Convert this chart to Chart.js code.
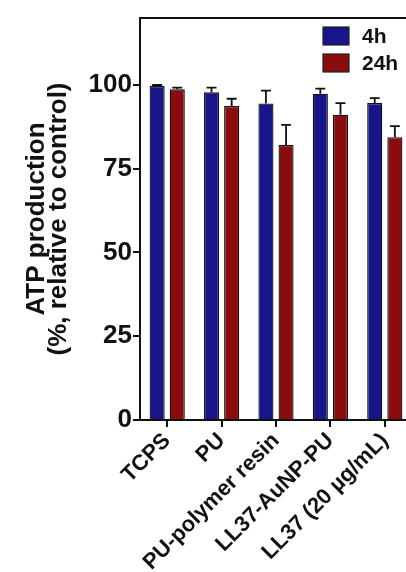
<!DOCTYPE html>
<html>
<head>
<meta charset="utf-8">
<script src="https://cdn.jsdelivr.net/npm/chart.js@4.4.0/dist/chart.umd.min.js"></script>
<style>
html,body{margin:0;padding:0;background:#fff;overflow:hidden;width:406px;height:572px;}
#wrap{width:412px;height:572px;position:relative;}
</style>
</head>
<body>
<div id="wrap"><canvas id="c"></canvas></div>
<script>
const categories = ["TCPS", "PU", "PU-polymer resin", "LL37-AuNP-PU", "LL37 (20 µg/mL)"];
const seriesNames = ["4h", "24h"];
const values4h = [99.7, 97.8, 94.5, 97.4, 94.6];
const errors4h = [0.3, 1.4, 3.8, 1.5, 1.5];
const values24h = [98.7, 93.7, 82.1, 91.1, 84.4];
const errors24h = [0.5, 2.2, 6.0, 3.5, 3.3];
const yTicks = [0, 25, 50, 75, 100];
const yTitle = ["ATP production", "(%, relative to control)"];

const FONT = "'Liberation Sans', Arial, sans-serif";
const colors = ["#16168a", "#8a0c0c"];

const errorBars = {
  id: "errorBars",
  afterDatasetsDraw(chart) {
    const ctx = chart.ctx;
    const yScale = chart.scales.y;
    chart.data.datasets.forEach((ds, di) => {
      const meta = chart.getDatasetMeta(di);
      meta.data.forEach((bar, i) => {
        const v = ds.data[i], e = ds.errors[i];
        const yTop = yScale.getPixelForValue(v + e);
        const yV = bar.y;
        const half = bar.width * 0.33;
        ctx.save();
        ctx.strokeStyle = "#111";
        ctx.lineWidth = 1.8;
        ctx.beginPath();
        ctx.moveTo(bar.x, yV);
        ctx.lineTo(bar.x, yTop);
        ctx.moveTo(bar.x - half, yTop);
        ctx.lineTo(bar.x + half, yTop);
        ctx.stroke();
        ctx.restore();
      });
    });
  }
};

const frameAndLegend = {
  id: "frameAndLegend",
  afterDraw(chart) {
    const ctx = chart.ctx;
    const a = chart.chartArea;
    ctx.save();
    ctx.strokeStyle = "#111";
    ctx.lineWidth = 2;
    ctx.beginPath();
    ctx.moveTo(a.left - 1, a.top);
    ctx.lineTo(a.right, a.top);
    ctx.stroke();
    // legend
    const bx = a.right - 89, bw = 26, bh = 18;
    ctx.font = "bold 21px " + FONT;
    ctx.textBaseline = "middle";
    ctx.textAlign = "left";
    chart.data.datasets.forEach((ds, i) => {
      const by = a.top + 9 + i * 27;
      ctx.fillStyle = ds.backgroundColor;
      ctx.fillRect(bx, by, bw, bh);
      ctx.lineWidth = 1.2;
      ctx.strokeStyle = "#222";
      ctx.strokeRect(bx, by, bw, bh);
      ctx.fillStyle = "#111";
      ctx.fillText(ds.label, bx + 39, by + bh / 2 + 1);
    });
    ctx.restore();
  }
};

new Chart(document.getElementById("c"), {
  type: "bar",
  data: {
    labels: categories,
    datasets: [
      { label: seriesNames[0], data: values4h, errors: errors4h, backgroundColor: colors[0], borderColor: "#111", borderWidth: 1.3, barPercentage: 0.75, categoryPercentage: 0.74 },
      { label: seriesNames[1], data: values24h, errors: errors24h, backgroundColor: colors[1], borderColor: "#111", borderWidth: 1.3, barPercentage: 0.75, categoryPercentage: 0.74 }
    ]
  },
  options: {
    responsive: true,
    maintainAspectRatio: false,
    animation: false,
    layout: { padding: { top: 18, right: 0, left: 0, bottom: 0 } },
    plugins: { legend: { display: false }, tooltip: { enabled: false } },
    scales: {
      x: {
        offset: true,
        afterFit(scale) { scale.height = 152; },
        grid: { drawOnChartArea: false, offset: false, color: "#111", lineWidth: 2, tickLength: 7 },
        border: { display: true, color: "#111", width: 2 },
        ticks: {
          autoSkip: false, maxRotation: 45, minRotation: 45, padding: 1,
          color: "#111", font: { family: FONT, size: 22, weight: "bold" }
        }
      },
      y: {
        min: 0, max: 120,
        afterFit(scale) { scale.width = 140; },
        afterBuildTicks(scale) { scale.ticks = yTicks.map(v => ({ value: v })); },
        grid: { drawOnChartArea: false, color: "#111", lineWidth: 2, tickLength: 7 },
        border: { display: true, color: "#111", width: 2 },
        ticks: { stepSize: 25, padding: 1, color: "#111", font: { family: FONT, size: 26, weight: "bold" } },
        title: {
          display: true, text: yTitle, color: "#111",
          font: { family: FONT, size: 26, weight: "bold", lineHeight: 0.85 },
          padding: { top: 26, bottom: 0 }
        }
      }
    }
  },
  plugins: [errorBars, frameAndLegend]
});
</script>
</body>
</html>
